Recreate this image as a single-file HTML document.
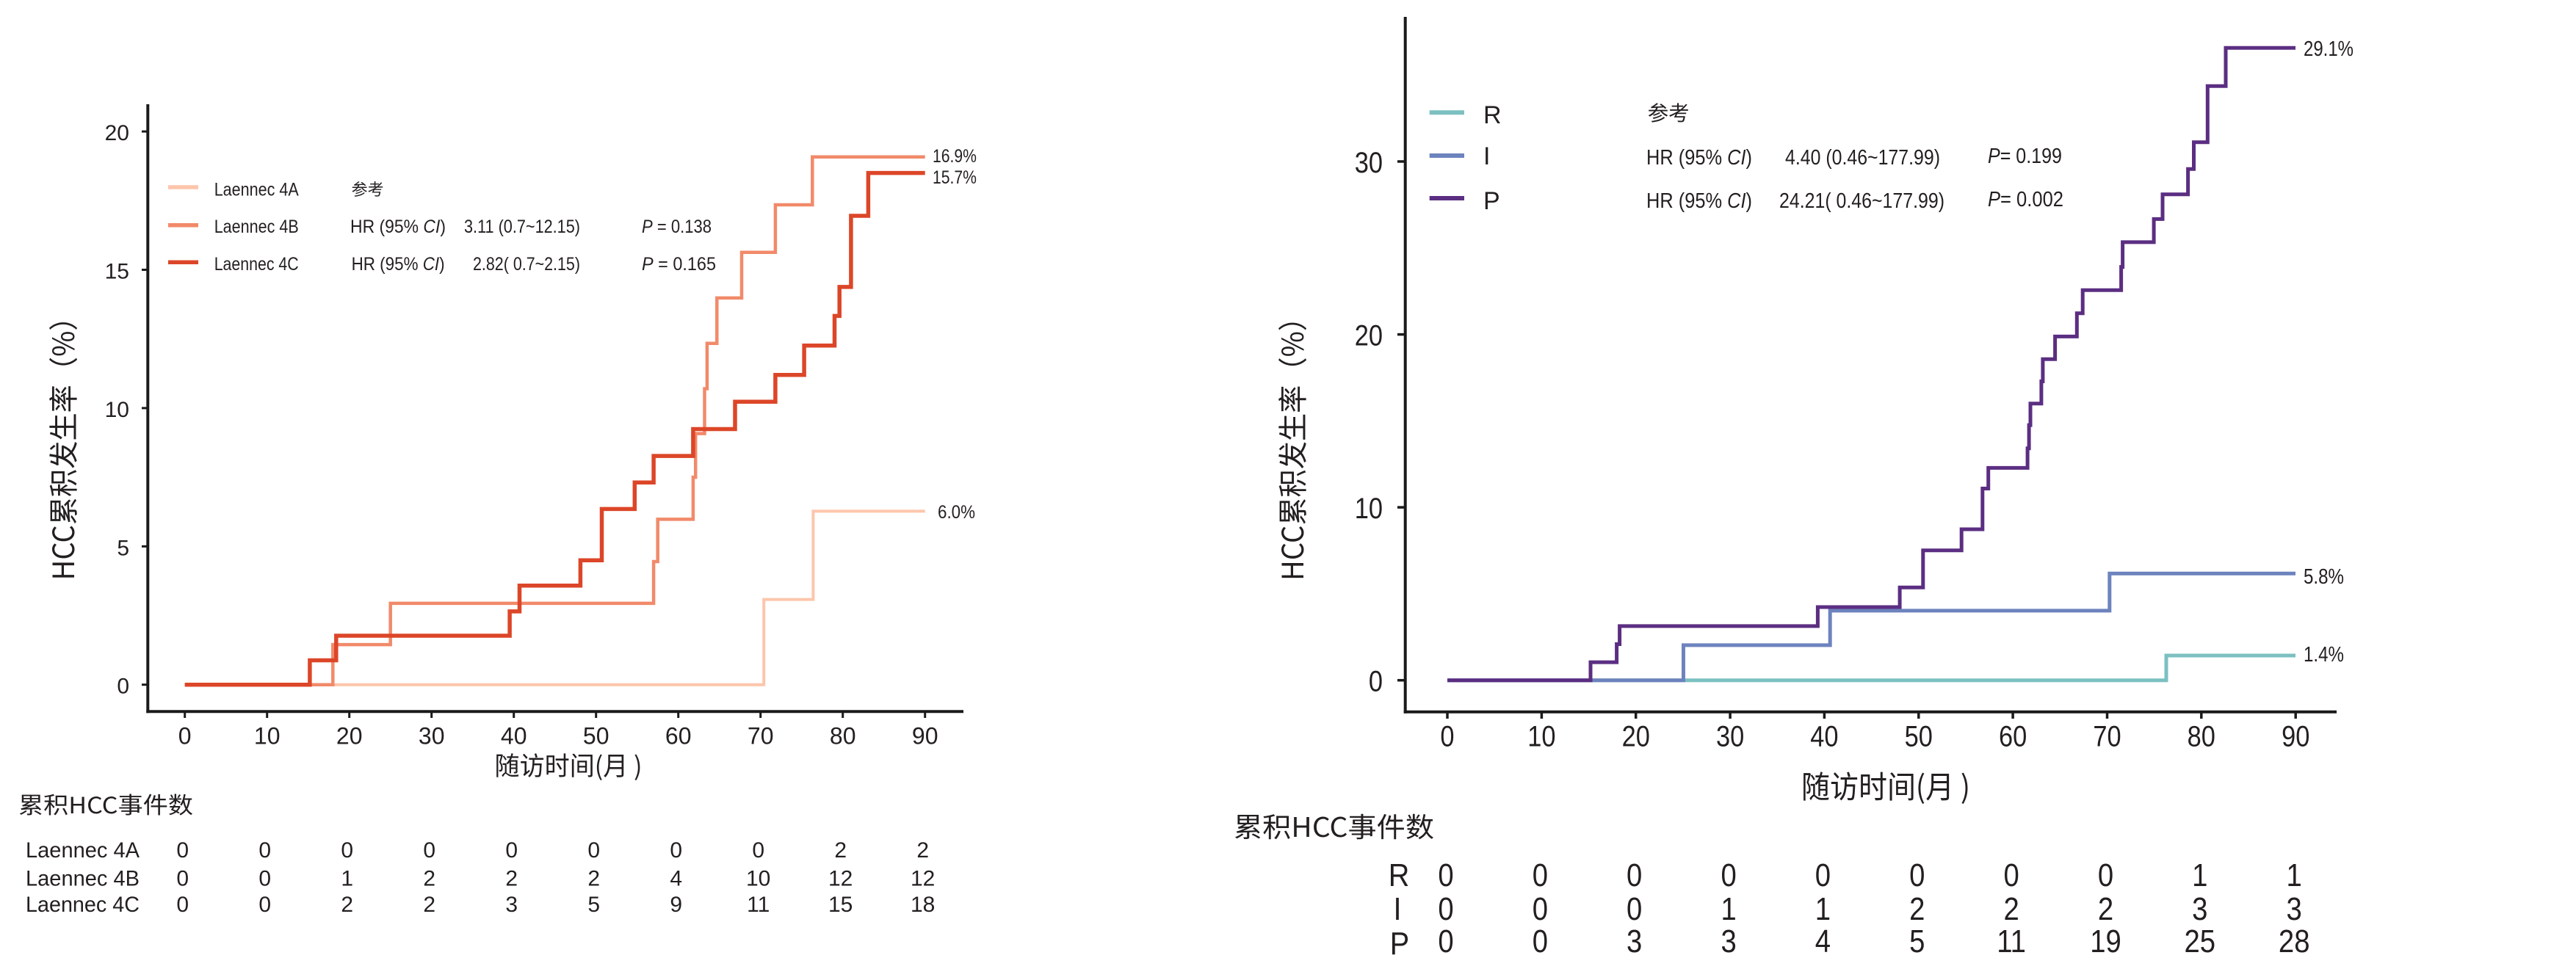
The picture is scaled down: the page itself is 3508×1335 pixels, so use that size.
<!DOCTYPE html>
<html><head><meta charset="utf-8"><style>
html,body{margin:0;padding:0;background:#fff;}
svg{display:block;}
text{font-family:"Liberation Sans","Noto Sans CJK SC",sans-serif;fill:#231f20;}
.cjk{font-family:"Noto Sans CJK SC","Liberation Sans",sans-serif;}
</style></head><body>
<svg xmlns="http://www.w3.org/2000/svg" width="3508" height="1335" viewBox="0 0 3508 1335">
<rect width="3508" height="1335" fill="#fff"/>

<!-- ============ LEFT CHART ============ -->
<g stroke="#1a1a1a" fill="none">
  <line x1="201.3" y1="142" x2="201.3" y2="971.3" stroke-width="4"/>
  <line x1="199.3" y1="969.3" x2="1312" y2="969.3" stroke-width="4"/>
  <g stroke-width="3">
    <line x1="193" y1="932.7" x2="201" y2="932.7"/>
    <line x1="193" y1="744.3" x2="201" y2="744.3"/>
    <line x1="193" y1="555.9" x2="201" y2="555.9"/>
    <line x1="193" y1="367.5" x2="201" y2="367.5"/>
    <line x1="193" y1="179.1" x2="201" y2="179.1"/>
    <line x1="251.7" y1="969" x2="251.7" y2="978"/>
    <line x1="363.7" y1="969" x2="363.7" y2="978"/>
    <line x1="475.7" y1="969" x2="475.7" y2="978"/>
    <line x1="587.7" y1="969" x2="587.7" y2="978"/>
    <line x1="699.7" y1="969" x2="699.7" y2="978"/>
    <line x1="811.7" y1="969" x2="811.7" y2="978"/>
    <line x1="923.7" y1="969" x2="923.7" y2="978"/>
    <line x1="1035.7" y1="969" x2="1035.7" y2="978"/>
    <line x1="1147.7" y1="969" x2="1147.7" y2="978"/>
    <line x1="1259.7" y1="969" x2="1259.7" y2="978"/>
  </g>
</g>
<g font-size="30" text-anchor="end">
  <text x="176" y="944.7">0</text>
  <text x="176" y="756.3">5</text>
  <text x="176" y="567.9">10</text>
  <text x="176" y="379.5">15</text>
  <text x="176" y="191.1">20</text>
</g>
<g font-size="32" text-anchor="middle">
  <text x="251.7" y="1013.3">0</text>
  <text x="363.7" y="1013.3">10</text>
  <text x="475.7" y="1013.3">20</text>
  <text x="587.7" y="1013.3">30</text>
  <text x="699.7" y="1013.3">40</text>
  <text x="811.7" y="1013.3">50</text>
  <text x="923.7" y="1013.3">60</text>
  <text x="1035.7" y="1013.3">70</text>
  <text x="1147.7" y="1013.3">80</text>
  <text x="1259.7" y="1013.3">90</text>
</g>
<text class="cjk" font-size="40" text-anchor="middle" transform="translate(101,601.5) rotate(-90)" textLength="378" lengthAdjust="spacingAndGlyphs">HCC累积发生率（%）</text>
<text class="cjk" font-size="35" text-anchor="middle" x="774" y="1056" textLength="201" lengthAdjust="spacingAndGlyphs">随访时间(月 )</text>

<!-- curves left -->
<g fill="none" stroke-linejoin="miter">
  <path d="M251.7,932.7 H1040.2 V816.6 H1107.4 V696.4 H1259.7" stroke="#fcc6ac" stroke-width="4"/>
  <path d="M251.7,932.7 H453.3 V878.1 H531.7 V821.9 H890.1 V765.0 H895.7 V707.4 H943.9 V650.1 H947.2 V590.6 H959.5 V529.5 H962.9 V467.7 H976.3 V405.9 H1010 V343.8 H1055.9 V279.0 H1106.3 V213.8 H1259.7" stroke="#f18a6a" stroke-width="4.5"/>
  <path d="M251.7,932.7 H421.9 V899.5 H457.8 V866.0 H694.1 V832.9 H707.5 V797.8 H790.4 V763.2 H819.5 V693.4 H864.3 V657.3 H890.1 V621.1 H943.9 V584.5 H1001 V547.2 H1055.9 V510.7 H1095.1 V470.8 H1136.5 V430.4 H1143.2 V390.9 H1158.9 V294.0 H1182.4 V235.6 H1259.7" stroke="#dc4628" stroke-width="5.5"/>
</g>

<!-- legend left -->
<g stroke-width="5.5">
  <line x1="229" y1="255" x2="270" y2="255" stroke="#fcc6ac"/>
  <line x1="229" y1="306.7" x2="270" y2="306.7" stroke="#f18a6a"/>
  <line x1="229" y1="357.3" x2="270" y2="357.3" stroke="#dc4628"/>
</g>
<g font-size="25">
  <text x="291.7" y="266.7" textLength="115" lengthAdjust="spacingAndGlyphs">Laennec 4A</text>
  <text x="291.7" y="317" textLength="115" lengthAdjust="spacingAndGlyphs">Laennec 4B</text>
  <text x="291.7" y="368" textLength="115" lengthAdjust="spacingAndGlyphs">Laennec 4C</text>
  <text class="cjk" x="478.6" y="266" font-size="22" textLength="44" lengthAdjust="spacingAndGlyphs">参考</text>
  <text x="477" y="317" textLength="130" lengthAdjust="spacingAndGlyphs">HR (95% <tspan font-style="italic">CI</tspan>)</text>
  <text x="478.6" y="368" textLength="127" lengthAdjust="spacingAndGlyphs">HR (95% <tspan font-style="italic">CI</tspan>)</text>
  <text x="632" y="317" textLength="158" lengthAdjust="spacingAndGlyphs">3.11 (0.7~12.15)</text>
  <text x="644" y="368" textLength="146" lengthAdjust="spacingAndGlyphs">2.82( 0.7~2.15)</text>
  <text x="874" y="317" textLength="95" lengthAdjust="spacingAndGlyphs"><tspan font-style="italic">P</tspan> = 0.138</text>
  <text x="874" y="368" textLength="101" lengthAdjust="spacingAndGlyphs"><tspan font-style="italic">P</tspan>  = 0.165</text>
  <text x="1270" y="221" textLength="60" lengthAdjust="spacingAndGlyphs">16.9%</text>
  <text x="1270" y="250" textLength="60" lengthAdjust="spacingAndGlyphs">15.7%</text>
  <text x="1277" y="706" textLength="51" lengthAdjust="spacingAndGlyphs">6.0%</text>
</g>

<!-- table left -->
<text class="cjk" x="25" y="1108" font-size="31" textLength="238" lengthAdjust="spacingAndGlyphs">累积HCC事件数</text>
<g font-size="30">
  <text x="35" y="1168" textLength="155" lengthAdjust="spacingAndGlyphs">Laennec 4A</text>
  <text x="35" y="1206.5" textLength="155" lengthAdjust="spacingAndGlyphs">Laennec 4B</text>
  <text x="35" y="1242" textLength="155" lengthAdjust="spacingAndGlyphs">Laennec 4C</text>
</g>
<g font-size="30" text-anchor="middle">
  <text x="248.7" y="1168">0</text><text x="360.7" y="1168">0</text><text x="472.7" y="1168">0</text><text x="584.7" y="1168">0</text><text x="696.7" y="1168">0</text><text x="808.7" y="1168">0</text><text x="920.7" y="1168">0</text><text x="1032.7" y="1168">0</text><text x="1144.7" y="1168">2</text><text x="1256.7" y="1168">2</text>
  <text x="248.7" y="1206.5">0</text><text x="360.7" y="1206.5">0</text><text x="472.7" y="1206.5">1</text><text x="584.7" y="1206.5">2</text><text x="696.7" y="1206.5">2</text><text x="808.7" y="1206.5">2</text><text x="920.7" y="1206.5">4</text><text x="1032.7" y="1206.5">10</text><text x="1144.7" y="1206.5">12</text><text x="1256.7" y="1206.5">12</text>
  <text x="248.7" y="1242">0</text><text x="360.7" y="1242">0</text><text x="472.7" y="1242">2</text><text x="584.7" y="1242">2</text><text x="696.7" y="1242">3</text><text x="808.7" y="1242">5</text><text x="920.7" y="1242">9</text><text x="1032.7" y="1242">11</text><text x="1144.7" y="1242">15</text><text x="1256.7" y="1242">18</text>
</g>

<!-- ============ RIGHT CHART ============ -->
<g stroke="#1a1a1a" fill="none">
  <line x1="1913.7" y1="23" x2="1913.7" y2="971.7" stroke-width="4"/>
  <line x1="1911.7" y1="969.7" x2="3182" y2="969.7" stroke-width="4"/>
  <g stroke-width="3.5">
    <line x1="1903" y1="926.7" x2="1913" y2="926.7"/>
    <line x1="1903" y1="691.1" x2="1913" y2="691.1"/>
    <line x1="1903" y1="455.6" x2="1913" y2="455.6"/>
    <line x1="1903" y1="220" x2="1913" y2="220"/>
    <line x1="1971" y1="970" x2="1971" y2="979"/>
    <line x1="2099.4" y1="970" x2="2099.4" y2="979"/>
    <line x1="2227.7" y1="970" x2="2227.7" y2="979"/>
    <line x1="2356.1" y1="970" x2="2356.1" y2="979"/>
    <line x1="2484.4" y1="970" x2="2484.4" y2="979"/>
    <line x1="2612.8" y1="970" x2="2612.8" y2="979"/>
    <line x1="2741.1" y1="970" x2="2741.1" y2="979"/>
    <line x1="2869.5" y1="970" x2="2869.5" y2="979"/>
    <line x1="2997.8" y1="970" x2="2997.8" y2="979"/>
    <line x1="3126.2" y1="970" x2="3126.2" y2="979"/>
  </g>
</g>
<g font-size="40" text-anchor="end">
  <text transform="translate(1883,941.7) scale(0.86,1)">0</text>
  <text transform="translate(1883,706.1) scale(0.86,1)">10</text>
  <text transform="translate(1883,470.6) scale(0.86,1)">20</text>
  <text transform="translate(1883,235) scale(0.86,1)">30</text>
</g>
<g font-size="40" text-anchor="middle">
  <text transform="translate(1971,1016.7) scale(0.86,1)">0</text>
  <text transform="translate(2099.4,1016.7) scale(0.86,1)">10</text>
  <text transform="translate(2227.7,1016.7) scale(0.86,1)">20</text>
  <text transform="translate(2356.1,1016.7) scale(0.86,1)">30</text>
  <text transform="translate(2484.4,1016.7) scale(0.86,1)">40</text>
  <text transform="translate(2612.8,1016.7) scale(0.86,1)">50</text>
  <text transform="translate(2741.1,1016.7) scale(0.86,1)">60</text>
  <text transform="translate(2869.5,1016.7) scale(0.86,1)">70</text>
  <text transform="translate(2997.8,1016.7) scale(0.86,1)">80</text>
  <text transform="translate(3126.2,1016.7) scale(0.86,1)">90</text>
</g>
<text class="cjk" font-size="40" text-anchor="middle" transform="translate(1775,602) rotate(-90)" textLength="378" lengthAdjust="spacingAndGlyphs">HCC累积发生率（%）</text>
<text class="cjk" font-size="42" text-anchor="middle" x="2568" y="1087" textLength="230" lengthAdjust="spacingAndGlyphs">随访时间(月 )</text>

<!-- curves right -->
<g fill="none" stroke-width="5" stroke-linejoin="miter">
  <path d="M1971,926.7 H2950 V893 H3126" stroke="#7cc0c1"/>
  <path d="M1971,926.7 H2292.5 V878.9 H2492.2 V831.9 H2872.8 V781.3 H3126" stroke="#6d83be"/>
  <path d="M1971,926.7 H2166 V902.1 H2201.6 V877.5 H2205.6 V852.9 H2475.4 V827 H2587.1 V800.3 H2618.8 V749.7 H2671.2 V721 H2699.8 V665.5 H2707.7 V637.4 H2761.1 V610.7 H2763.1 V579.1 H2765 V549.7 H2779.9 V519.5 H2781.9 V489.3 H2798.6 V458.4 H2828.3 V426.8 H2836.2 V395.2 H2888.6 V363.6 H2890.6 V329.9 H2933.1 V298.4 H2945 V264.7 H2979.6 V230.3 H2987.5 V193.8 H3006.3 V117.2 H3031 V65.3 H3126" stroke="#5b2e82"/>
</g>

<!-- legend right -->
<g stroke-width="6">
  <line x1="1946.7" y1="153.3" x2="1994" y2="153.3" stroke="#7cc0c1"/>
  <line x1="1946.7" y1="212" x2="1994" y2="212" stroke="#6d83be"/>
  <line x1="1946.7" y1="270" x2="1994" y2="270" stroke="#5b2e82"/>
</g>
<g font-size="34">
  <text x="2020" y="168">R</text>
  <text x="2020" y="224">I</text>
  <text x="2020" y="285">P</text>
</g>
<g font-size="29">
  <text class="cjk" x="2243.7" y="164" font-size="28" textLength="57" lengthAdjust="spacingAndGlyphs">参考</text>
  <text x="2242" y="224" textLength="144" lengthAdjust="spacingAndGlyphs">HR (95% <tspan font-style="italic">CI</tspan>)</text>
  <text x="2242" y="283" textLength="144" lengthAdjust="spacingAndGlyphs">HR (95% <tspan font-style="italic">CI</tspan>)</text>
  <text x="2431" y="224" textLength="211" lengthAdjust="spacingAndGlyphs">4.40 (0.46~177.99)</text>
  <text x="2423" y="283" textLength="225" lengthAdjust="spacingAndGlyphs">24.21( 0.46~177.99)</text>
  <text x="2707" y="222" textLength="101" lengthAdjust="spacingAndGlyphs"><tspan font-style="italic">P</tspan>= 0.199</text>
  <text x="2707" y="281" textLength="103" lengthAdjust="spacingAndGlyphs"><tspan font-style="italic">P</tspan>= 0.002</text>
  <text x="3137" y="76" textLength="68" lengthAdjust="spacingAndGlyphs">29.1%</text>
  <text x="3137" y="795" textLength="55" lengthAdjust="spacingAndGlyphs">5.8%</text>
  <text x="3137" y="901" textLength="55" lengthAdjust="spacingAndGlyphs">1.4%</text>
</g>

<!-- table right -->
<text class="cjk" x="1680" y="1140" font-size="37" textLength="273" lengthAdjust="spacingAndGlyphs">累积HCC事件数</text>
<g font-size="44" text-anchor="middle">
  <text transform="translate(1905,1207) scale(0.9,1)">R</text>
  <text transform="translate(1903,1253) scale(0.9,1)">I</text>
  <text transform="translate(1906,1300) scale(0.9,1)">P</text>
</g>
<g font-size="44" text-anchor="middle">
  <text transform="translate(1969,1207) scale(0.87,1)">0</text><text transform="translate(2097.4,1207) scale(0.87,1)">0</text><text transform="translate(2225.7,1207) scale(0.87,1)">0</text><text transform="translate(2354.1,1207) scale(0.87,1)">0</text><text transform="translate(2482.4,1207) scale(0.87,1)">0</text><text transform="translate(2610.8,1207) scale(0.87,1)">0</text><text transform="translate(2739.1,1207) scale(0.87,1)">0</text><text transform="translate(2867.5,1207) scale(0.87,1)">0</text><text transform="translate(2995.8,1207) scale(0.87,1)">1</text><text transform="translate(3124.2,1207) scale(0.87,1)">1</text>
  <text transform="translate(1969,1253) scale(0.87,1)">0</text><text transform="translate(2097.4,1253) scale(0.87,1)">0</text><text transform="translate(2225.7,1253) scale(0.87,1)">0</text><text transform="translate(2354.1,1253) scale(0.87,1)">1</text><text transform="translate(2482.4,1253) scale(0.87,1)">1</text><text transform="translate(2610.8,1253) scale(0.87,1)">2</text><text transform="translate(2739.1,1253) scale(0.87,1)">2</text><text transform="translate(2867.5,1253) scale(0.87,1)">2</text><text transform="translate(2995.8,1253) scale(0.87,1)">3</text><text transform="translate(3124.2,1253) scale(0.87,1)">3</text>
  <text transform="translate(1969,1297) scale(0.87,1)">0</text><text transform="translate(2097.4,1297) scale(0.87,1)">0</text><text transform="translate(2225.7,1297) scale(0.87,1)">3</text><text transform="translate(2354.1,1297) scale(0.87,1)">3</text><text transform="translate(2482.4,1297) scale(0.87,1)">4</text><text transform="translate(2610.8,1297) scale(0.87,1)">5</text><text transform="translate(2739.1,1297) scale(0.87,1)">11</text><text transform="translate(2867.5,1297) scale(0.87,1)">19</text><text transform="translate(2995.8,1297) scale(0.87,1)">25</text><text transform="translate(3124.2,1297) scale(0.87,1)">28</text>
</g>
</svg>
</body></html>
